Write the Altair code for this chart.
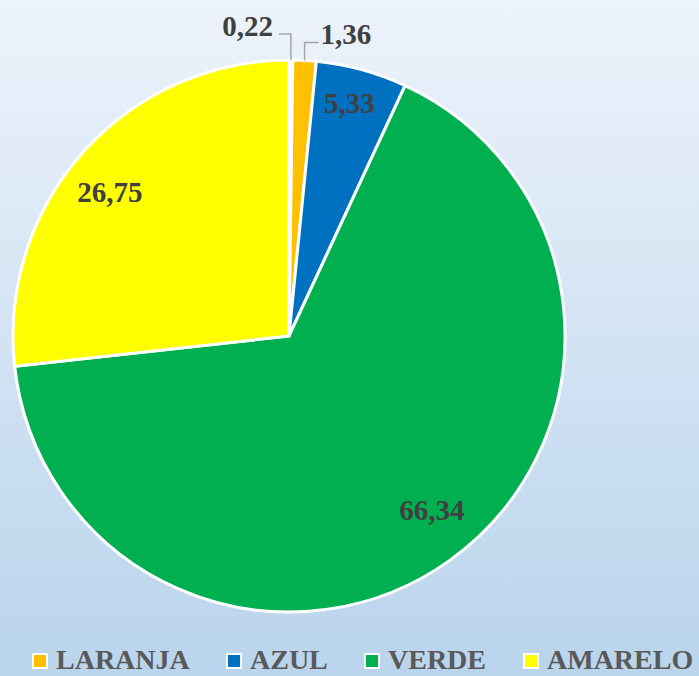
import altair as alt
import pandas as pd
import numpy as np

categorias = ["BRANCO", "LARANJA", "AZUL", "VERDE", "AMARELO"]
valores = [0.22, 1.36, 5.33, 66.34, 26.75]
rotulos = ["0,22", "1,36", "5,33", "66,34", "26,75"]
cores = ["#FFFFFF", "#FFC000", "#0070C0", "#00B050", "#FFFF00"]
legenda = ["LARANJA", "AZUL", "VERDE", "AMARELO"]

W, H = 699, 676
CX, CY, R = 289, 336, 276
FONT = "Liberation Serif"

df = pd.DataFrame({"cat": categorias, "val": valores, "lab": rotulos, "idx": range(len(valores))})
tot = df["val"].sum()
cum = df["val"].cumsum()
df["mid"] = (cum - df["val"] / 2) / tot * 2 * np.pi

# leader lines for the two tiny slices (computed from the slice mid angles)
small = df[df["idx"] <= 1].copy()
rise = {0: 26, 1: 18}
run = {0: -12, 1: 14}
rows = []
lab_rows = []
for _, r in small.iterrows():
    x0 = CX + R * np.sin(r["mid"])
    y0 = CY - R * np.cos(r["mid"])
    ye = y0 - rise[r["idx"]]
    xe = x0 + run[r["idx"]]
    rows += [
        {"lab": r["lab"], "step": 0, "px": x0, "py": y0},
        {"lab": r["lab"], "step": 1, "px": x0, "py": ye},
        {"lab": r["lab"], "step": 2, "px": xe, "py": ye},
    ]
    side = "right" if run[r["idx"]] < 0 else "left"
    lab_rows.append({"lab": r["lab"], "side": side,
                     "px": xe - 6 if side == "right" else xe + 2, "py": ye - 7})
lines_df = pd.DataFrame(rows)
labs_df = pd.DataFrame(lab_rows)

bg = alt.Chart(pd.DataFrame({"a": [0]})).mark_rect(
    fill=alt.Gradient(
        gradient="linear",
        stops=[alt.GradientStop(color="#EDF3FB", offset=0),
               alt.GradientStop(color="#B9D4EC", offset=1)],
        x1=0, x2=0, y1=0, y2=1,
    )
).encode(x=alt.value(0), x2=alt.value(W), y=alt.value(0), y2=alt.value(H))

base = alt.Chart(df)

arcs = base.mark_arc(outerRadius=R, stroke="white", strokeWidth=3).encode(
    theta=alt.Theta("val:Q", stack=True),
    order=alt.Order("idx:Q"),
    color=alt.Color(
        "cat:N",
        scale=alt.Scale(domain=categorias, range=cores),
        legend=alt.Legend(
            values=legenda, orient="none", legendX=26, legendY=647,
            direction="horizontal", title=None, symbolType="square",
            symbolSize=200, symbolStrokeColor="white", symbolStrokeWidth=2,
            labelFont=FONT, labelFontSize=28, labelFontWeight="bold",
            labelColor="#595959", columnPadding=30, labelOffset=2,
            labelLimit=300,
        ),
    ),
    x=alt.value(CX),
    y=alt.value(CY),
)

# inside labels: slice mid angle at a radius, with small per-label nudges
big_df = df[df["idx"] >= 2].copy()
big_r = {2: 240, 3: 226, 4: 227}
nudge = {2: (-3, 0), 3: (11, -9), 4: (-10, 8)}
big_df["px"] = [CX + big_r[i] * np.sin(m) + nudge[i][0] for i, m in zip(big_df["idx"], big_df["mid"])]
big_df["py"] = [CY - big_r[i] * np.cos(m) + nudge[i][1] for i, m in zip(big_df["idx"], big_df["mid"])]

TXT = dict(font=FONT, fontSize=29, fontWeight="bold", color="#404040", baseline="middle")

big_text = alt.Chart(big_df).mark_text(**TXT).encode(
    x=alt.X("px:Q", scale=None, axis=None),
    y=alt.Y("py:Q", scale=None, axis=None),
    text="lab:N",
)

leaders = alt.Chart(lines_df).mark_line(color="#A6A6A6", strokeWidth=1.5).encode(
    x=alt.X("px:Q", scale=None, axis=None),
    y=alt.Y("py:Q", scale=None, axis=None),
    detail="lab:N",
    order="step:Q",
)

out_r = alt.Chart(labs_df).transform_filter("datum.side == 'right'").mark_text(
    align="right", **TXT
).encode(
    x=alt.X("px:Q", scale=None, axis=None),
    y=alt.Y("py:Q", scale=None, axis=None),
    text="lab:N",
)
out_l = alt.Chart(labs_df).transform_filter("datum.side == 'left'").mark_text(
    align="left", **TXT
).encode(
    x=alt.X("px:Q", scale=None, axis=None),
    y=alt.Y("py:Q", scale=None, axis=None),
    text="lab:N",
)

chart = alt.layer(bg, arcs, big_text, leaders, out_r, out_l).properties(
    width=W, height=H, padding=0, autosize=alt.AutoSizeParams(type="none"),
).configure_view(stroke=None).configure_legend(
    labelFont=FONT, labelFontWeight="bold", labelFontSize=28
).configure_text(font=FONT)

chart.save("out.html", embed_options={"renderer": "svg", "actions": False})
